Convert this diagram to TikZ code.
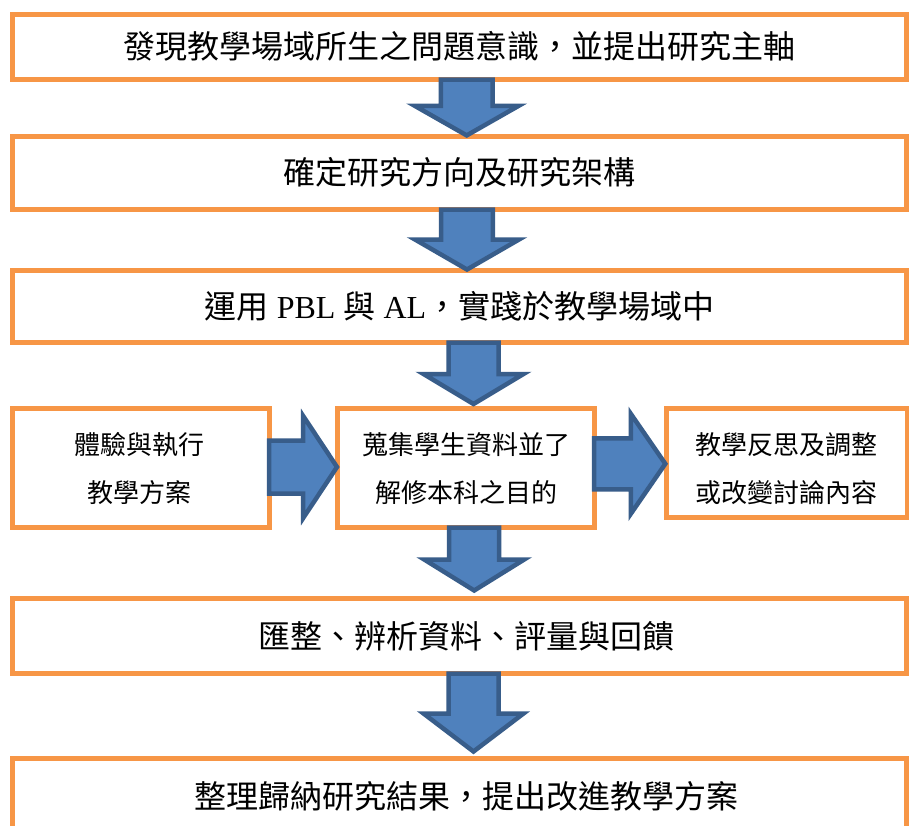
\documentclass[tikz,border=0pt]{standalone}
\usepackage{fontspec}
\setmainfont{Liberation Serif}
\newfontfamily\cjk{Noto Sans CJK TC}
\usetikzlibrary{calc}
\definecolor{boxorange}{HTML}{F79646}
\definecolor{arrowfill}{HTML}{4F81BD}
\definecolor{arrowline}{HTML}{385D8A}
\tikzset{
  flowbox/.style={draw=boxorange, line width=5pt, fill=white, inner sep=0pt, outer sep=0pt, align=center},
  bigtext/.style={font=\fontsize{32}{38}\selectfont},
  smalltext/.style={font=\fontsize{26}{48}\selectfont\cjk, align=center, inner sep=0pt},
  blockarrow/.style={draw=arrowline, fill=arrowfill, line width=4.5pt, line join=miter},
}
% down block arrow: #1 upper node, #2 lower node, #3 centre-x coordinate,
% #4 shaft half width, #5 head half width, #6 head length, #7 gap above lower node
\newcommand{\dblock}[7]{%
  \path (#1.south -| #3) coordinate (dtop) (#2.north -| #3) coordinate (dbot);
  \draw[blockarrow] ($(dtop)+(-#4,0)$) -- ($(dtop)+(#4,0)$) -- ($(dbot)+(#4,-#6-#7)$)
    -- ($(dbot)+(#5,-#6-#7)$) -- ($(dbot)+(0,-#7)$) -- ($(dbot)+(-#5,-#6-#7)$)
    -- ($(dbot)+(-#4,-#6-#7)$) -- cycle;
}
% right block arrow: #1 left node, #2 right node, #3 centre-y coordinate,
% #4 shaft half width, #5 head half width, #6 head length, #7 gap before right node
\newcommand{\rblock}[7]{%
  \path (#1.east |- #3) coordinate (rstart) (#2.west |- #3) coordinate (rend);
  \draw[blockarrow] ($(rstart)+(0,-#4)$) -- ($(rend)+(-#6-#7,-#4)$) -- ($(rend)+(-#6-#7,-#5)$)
    -- ($(rend)+(-#7,0)$) -- ($(rend)+(-#6-#7,#5)$) -- ($(rend)+(-#6-#7,#4)$)
    -- ($(rstart)+(0,#4)$) -- cycle;
}
\begin{document}
\begin{tikzpicture}[x=1pt,y=-1pt]
\useasboundingbox (0,0) rectangle (909,825);
\clip (0,0) rectangle (909,825);
\fill[white] (0,0) rectangle (909,825);

\node[flowbox, bigtext, minimum width=894pt, minimum height=65.5pt] (b1) at (459.5,46.75)
  {\cjk 發現教學場域所生之問題意識，並提出研究主軸};
\node[flowbox, bigtext, minimum width=894pt, minimum height=73.5pt] (b2) at (459.5,172.75)
  {\cjk 確定研究方向及研究架構};
\node[flowbox, bigtext, minimum width=894pt, minimum height=72pt] (b3) at (459.5,306.5)
  {{\cjk 運用} PBL {\cjk 與} AL{\cjk ，實踐於教學場域中}};

\node[flowbox, minimum width=256.5pt, minimum height=119.5pt] (bL) at (140.75,467.75) {};
\node[smalltext] (tL) at (139.5,469) {體驗與執行\\教學方案};
\node[flowbox, minimum width=256.5pt, minimum height=119.5pt] (bM) at (465.75,467.75) {};
\node[smalltext] (tM) at (466,469) {蒐集學生資料並了\\解修本科之目的};
\node[flowbox, minimum width=241pt, minimum height=109.5pt] (bR) at (786.5,462.75) {};
\node[smalltext] (tR) at (786.5,469) {教學反思及調整\\或改變討論內容};

\node[flowbox, bigtext, minimum width=894pt, minimum height=75pt] (b5) at (459.5,636)
  {\cjk\hspace*{13pt}匯整、辨析資料、評量與回饋};
\node[flowbox, bigtext, minimum width=894pt, minimum height=75pt] (b6) at (459.5,796)
  {\cjk\hspace*{13pt}整理歸納研究結果，提出改進教學方案};

\coordinate (axA) at (466.7,0);
\coordinate (axB) at (467,0);
\coordinate (axC) at (473.5,0);
\coordinate (axD) at (474.2,0);
\coordinate (axE) at (473.5,0);
\coordinate (ay1) at (0,467);
\coordinate (ay2) at (0,463.8);

\dblock{b1}{b2}{axA}{25.85}{52}{29.6}{0.6}
\dblock{b2}{b3}{axB}{25.85}{52}{30}{1}
\dblock{b3}{bM}{axC}{25}{50}{30}{4}
\rblock{bL}{bM}{ay1}{26.5}{51}{33.8}{0.5}
\rblock{bM}{bR}{ay2}{25.5}{50}{34.5}{0.7}
\dblock{bM}{b5}{axD}{25}{50}{31}{8}
\dblock{b5}{b6}{axE}{25}{50}{38}{7}
\end{tikzpicture}
\end{document}
